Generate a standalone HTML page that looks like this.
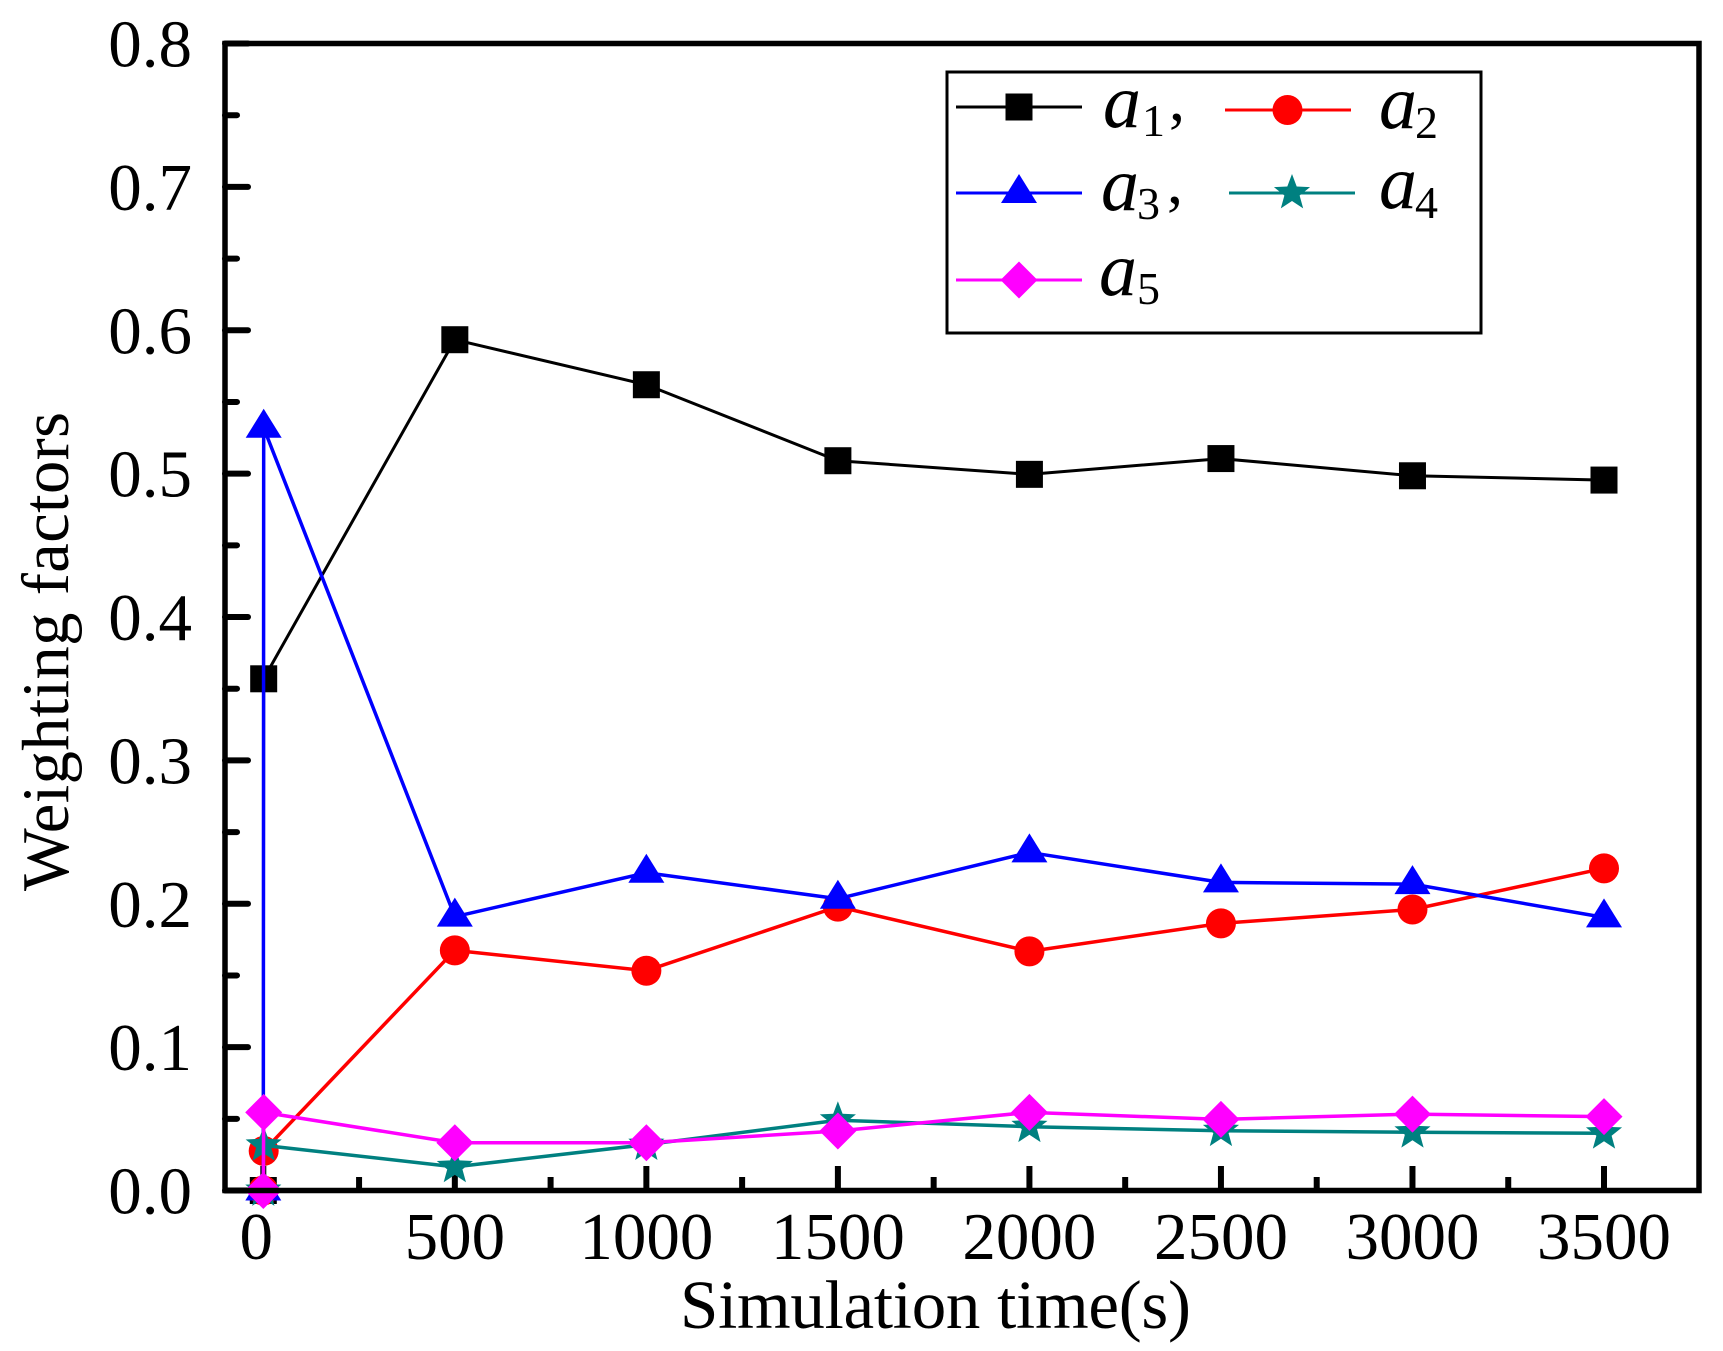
<!DOCTYPE html>
<html lang="en">
<head>
<meta charset="utf-8">
<title>Weighting factors over simulation time</title>
<style>
  html, body { margin: 0; padding: 0; background: #fff; }
  svg { display: block; }
  text { font-family: "Liberation Serif", serif; fill: #000; }
</style>
</head>
<body>
<svg id="chart" xmlns="http://www.w3.org/2000/svg" width="1723" height="1351" viewBox="0 0 1723 1351">
  <rect x="0" y="0" width="1723" height="1351" fill="#fff"/>
  <g id="ticks"></g>
  <g id="series"></g>
  <rect x="225" y="43.5" width="1474" height="1147" fill="none" stroke="#000" stroke-width="5.5"/>
  <g id="tick-labels" font-size="67"></g>
  <text x="680" y="1328" font-size="69" textLength="511" lengthAdjust="spacing">Simulation time(s)</text>
  <text transform="translate(68 891) rotate(-90)" font-size="66.5" textLength="479" lengthAdjust="spacing">Weighting factors</text>

  <g id="legend">
    <rect x="947" y="72" width="534" height="261" fill="#fff" stroke="#000" stroke-width="3"/>
    <g id="legend-keys"></g>
    <g>
      <text x="1103" y="127" font-size="76" font-style="italic">a</text>
      <text x="1142" y="136" font-size="46">1</text>
      <text x="1169" y="120" font-size="64">,</text>
    </g>
    <g>
      <text x="1379" y="128" font-size="76" font-style="italic">a</text>
      <text x="1415" y="138" font-size="46">2</text>
    </g>
    <g>
      <text x="1101" y="210" font-size="76" font-style="italic">a</text>
      <text x="1137" y="219" font-size="46">3</text>
      <text x="1167" y="203" font-size="64">,</text>
    </g>
    <g>
      <text x="1379" y="208" font-size="76" font-style="italic">a</text>
      <text x="1415" y="218" font-size="46">4</text>
    </g>
    <g>
      <text x="1099" y="295" font-size="76" font-style="italic">a</text>
      <text x="1137" y="304" font-size="46">5</text>
    </g>
  </g>
</svg>

<script>
const times = [0, 1, 500, 1000, 1500, 2000, 2500, 3000, 3500];
const a1Values = [0, 0.3569, 0.5934, 0.562, 0.509, 0.4995, 0.5105, 0.4985, 0.4955];
const a2Values = [0, 0.0276, 0.1675, 0.1533, 0.198, 0.1668, 0.1863, 0.196, 0.2247];
const a3Values = [0, 0.532, 0.191, 0.2216, 0.2035, 0.2358, 0.2149, 0.2137, 0.1905];
const a4Values = [0, 0.0315, 0.0165, 0.032, 0.049, 0.0445, 0.0417, 0.0406, 0.0399];
const a5Values = [0, 0.0545, 0.0333, 0.0333, 0.0415, 0.0545, 0.0496, 0.0533, 0.0515];
const xTickLabels = ["0", "500", "1000", "1500", "2000", "2500", "3000", "3500"];
const xMinorTicks = [250, 750, 1250, 1750, 2250, 2750, 3250];
const yTickLabels = ["0.0", "0.1", "0.2", "0.3", "0.4", "0.5", "0.6", "0.7", "0.8"];
const yMinorTicks = [0.05, 0.15, 0.25, 0.35, 0.45, 0.55, 0.65, 0.75];

const NS = "http://www.w3.org/2000/svg";
const plot = { left: 225, right: 1699, top: 43.5, bottom: 1190.5 };
const xDomain = [-100, 3748];
const yDomain = [0, 0.8];

function xScale(v) {
  return plot.left + (v - xDomain[0]) / (xDomain[1] - xDomain[0]) * (plot.right - plot.left);
}
function yScale(v) {
  return plot.bottom - (v - yDomain[0]) / (yDomain[1] - yDomain[0]) * (plot.bottom - plot.top);
}
function make(tag, attrs, parent) {
  const el = document.createElementNS(NS, tag);
  for (const k in attrs) el.setAttribute(k, attrs[k]);
  parent.appendChild(el);
  return el;
}
function starPoints(cx, cy, R, r) {
  const pts = [];
  for (let i = 0; i < 10; i++) {
    const rad = i % 2 === 0 ? R : r;
    const ang = -Math.PI / 2 + i * Math.PI / 5;
    pts.push((cx + rad * Math.cos(ang)).toFixed(2) + "," + (cy + rad * Math.sin(ang)).toFixed(2));
  }
  return pts.join(" ");
}
function drawMarker(kind, cx, cy, color, parent) {
  if (kind === "square") {
    return make("rect", { x: cx - 13.5, y: cy - 13.5, width: 27, height: 27, fill: color }, parent);
  }
  if (kind === "circle") {
    return make("circle", { cx: cx, cy: cy, r: 15, fill: color }, parent);
  }
  if (kind === "triangle") {
    return make("polygon", { points: cx + "," + (cy - 19) + " " + (cx + 18) + "," + (cy + 10) + " " + (cx - 18) + "," + (cy + 10), fill: color }, parent);
  }
  if (kind === "star") {
    return make("polygon", { points: starPoints(cx, cy, 19, 8), fill: color }, parent);
  }
  return make("polygon", { points: cx + "," + (cy - 18.5) + " " + (cx + 18.5) + "," + cy + " " + cx + "," + (cy + 18.5) + " " + (cx - 18.5) + "," + cy, fill: color }, parent);
}

/* ticks */
const tickGroup = document.getElementById("ticks");
const labelGroup = document.getElementById("tick-labels");
yTickLabels.forEach(function (label) {
  const y = yScale(parseFloat(label));
  const tick = make("line", { x1: plot.left, y1: y, x2: 248, y2: y, stroke: "#000", "stroke-width": 6, "stroke-linecap": "round" }, tickGroup);
  
  
  const t = make("text", { x: 192, y: y + 23, "text-anchor": "end" }, labelGroup);
  t.textContent = label;
  
  
});
yMinorTicks.forEach(function (v) {
  const y = yScale(v);
  const tick = make("line", { x1: plot.left, y1: y, x2: 237, y2: y, stroke: "#000", "stroke-width": 6, "stroke-linecap": "round" }, tickGroup);
  
  
});
xTickLabels.forEach(function (label) {
  const v = parseFloat(label);
  const x = xScale(v);
  const tick = make("line", { x1: x, y1: plot.bottom, x2: x, y2: 1166, stroke: "#000", "stroke-width": 6 }, tickGroup);
  
  
  const t = make("text", { x: x + (v === 0 ? -7 : 0), y: 1259, "text-anchor": "middle" }, labelGroup);
  t.textContent = label;
  
  
});
xMinorTicks.forEach(function (v) {
  const x = xScale(v);
  const tick = make("line", { x1: x, y1: plot.bottom, x2: x, y2: 1177, stroke: "#000", "stroke-width": 6 }, tickGroup);
  
  
});

/* series */
const seriesGroup = document.getElementById("series");
function drawSeries(name, values, color, kind, width) {
  const g = make("g", {}, seriesGroup);
  
  
  const pts = values.map(function (v, i) {
    return xScale(times[i]).toFixed(2) + "," + yScale(v).toFixed(2);
  }).join(" ");
  const line = make("polyline", { points: pts, fill: "none", stroke: color, "stroke-width": width, "stroke-linejoin": "round" }, g);
  
  
  values.forEach(function (v, i) {
    const m = drawMarker(kind, xScale(times[i]), yScale(v), color, g);
    
    
  });
}
drawSeries("a1", a1Values, "#000000", "square", 3);
drawSeries("a2", a2Values, "#ff0000", "circle", 3.5);
drawSeries("a3", a3Values, "#0000ff", "triangle", 3.5);
drawSeries("a4", a4Values, "#008080", "star", 3.5);
drawSeries("a5", a5Values, "#ff00ff", "diamond", 3.5);

/* legend keys */
const keyGroup = document.getElementById("legend-keys");
function drawKey(name, x1, x2, cx, y, color, kind, width) {
  const l = make("line", { x1: x1, y1: y, x2: x2, y2: y, stroke: color, "stroke-width": width }, keyGroup);
  
  
  const m = drawMarker(kind, cx, y, color, keyGroup);
  
  
}
drawKey("a1", 956, 1082, 1019, 107, "#000000", "square", 3);
drawKey("a2", 1225, 1351, 1287.5, 110, "#ff0000", "circle", 3);
drawKey("a3", 956, 1082, 1019, 193, "#0000ff", "triangle", 3);
drawKey("a4", 1229, 1355, 1292, 193, "#008080", "star", 3);
drawKey("a5", 956, 1082, 1019, 280, "#ff00ff", "diamond", 3);
</script>
</body>
</html>
